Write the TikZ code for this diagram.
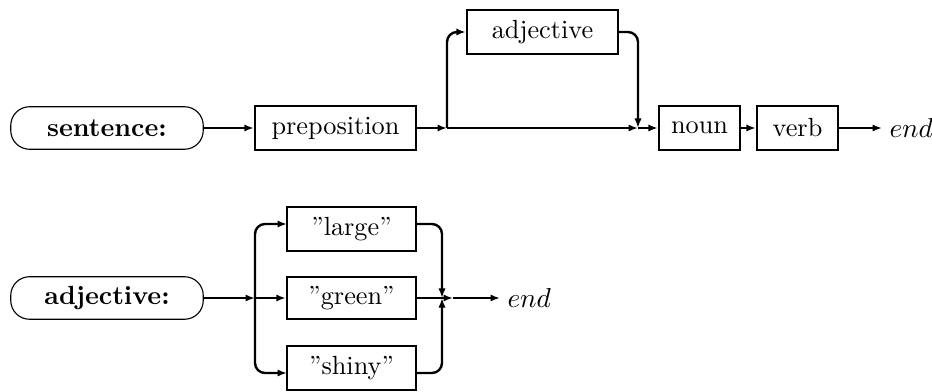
\documentclass[tikz,border=0pt]{standalone}
\usetikzlibrary{arrows.meta}
\begin{document}
\begin{tikzpicture}[x=0.4pt,y=-0.4pt,
  every node/.style={font=\fontsize{10.5}{12}\selectfont},
  box/.style={draw,line width=0.95pt,inner sep=0pt,minimum height=17.6pt},
  term/.style={draw,line width=0.45pt,rounded corners=7.5pt,inner sep=0pt,minimum width=77pt,minimum height=17pt,font=\fontsize{10.5}{12}\selectfont\bfseries},
  conn/.style={line width=0.95pt},
  arr/.style={line width=0.95pt,-{Latex[length=3.8pt,width=2.9pt]}},
  branch/.style={line width=0.95pt,rounded corners=4pt},
  endlbl/.style={anchor=west,inner sep=0pt}]
\useasboundingbox (0,0) rectangle (932,392);
% ---- sentence ----
\node[term] (sent) at (107,128) {sentence:};
\node[box,minimum width=64.4pt] (prep) at (335.5,128) {preposition};
\node[box,minimum width=60.4pt] (adj) at (542.5,32) {adjective};
\node[box,minimum width=32.4pt] (noun) at (699.5,128) {noun};
\node[box,minimum width=32.4pt] (verb) at (797.5,128) {verb};
\node[endlbl] (end1) at (889,128) {$end$};
\coordinate (j1) at (447,128);
\coordinate (j2) at (638,128);
\coordinate (e1) at (882,128);
\draw[arr] (sent.east) -- (prep.west);
\draw[arr] (prep.east) -- (j1);
\draw[arr] (j1) -- (j2);
\draw[arr] (j2) -- (noun.west);
\draw[branch,arr] (j1) |- (adj.west);
\draw[branch,arr] (adj.east) -| (j2);
\draw[arr] (noun.east) -- (verb.west);
\draw[arr] (verb.east) -- (e1);
% ---- adjective ----
\node[term] (adjdef) at (107,298) {adjective:};
\node[box,minimum width=51.6pt] (large) at (351.5,229) {''large''};
\node[box,minimum width=51.6pt,minimum height=16.8pt] (green) at (351.5,298) {''green''};
\node[box,minimum width=51.6pt] (shiny) at (351.5,368) {''shiny''};
\node[endlbl] (end2) at (507,298) {$end$};
\coordinate (k1) at (255,298);
\coordinate (lin) at (287,224);
\coordinate (sin) at (287,373);
\coordinate (lout) at (416,224);
\coordinate (sout) at (416,373);
\coordinate (k2) at (442,298);
\coordinate (k3) at (453,298);
\coordinate (e2) at (500,298);
\draw[arr] (adjdef.east) -- (k1);
\draw[arr] (k1) -- (green.west);
\draw[branch,arr] (k1) |- (lin);
\draw[branch,arr] (k1) |- (sin);
\draw[branch,arr] (lout) -| (k2);
\draw[branch,arr] (sout) -| (k2);
\draw[conn] (green.east) -- (k2);
\draw[arr] (k2) -- (k3);
\draw[arr] (k3) -- (e2);
\end{tikzpicture}
\end{document}
